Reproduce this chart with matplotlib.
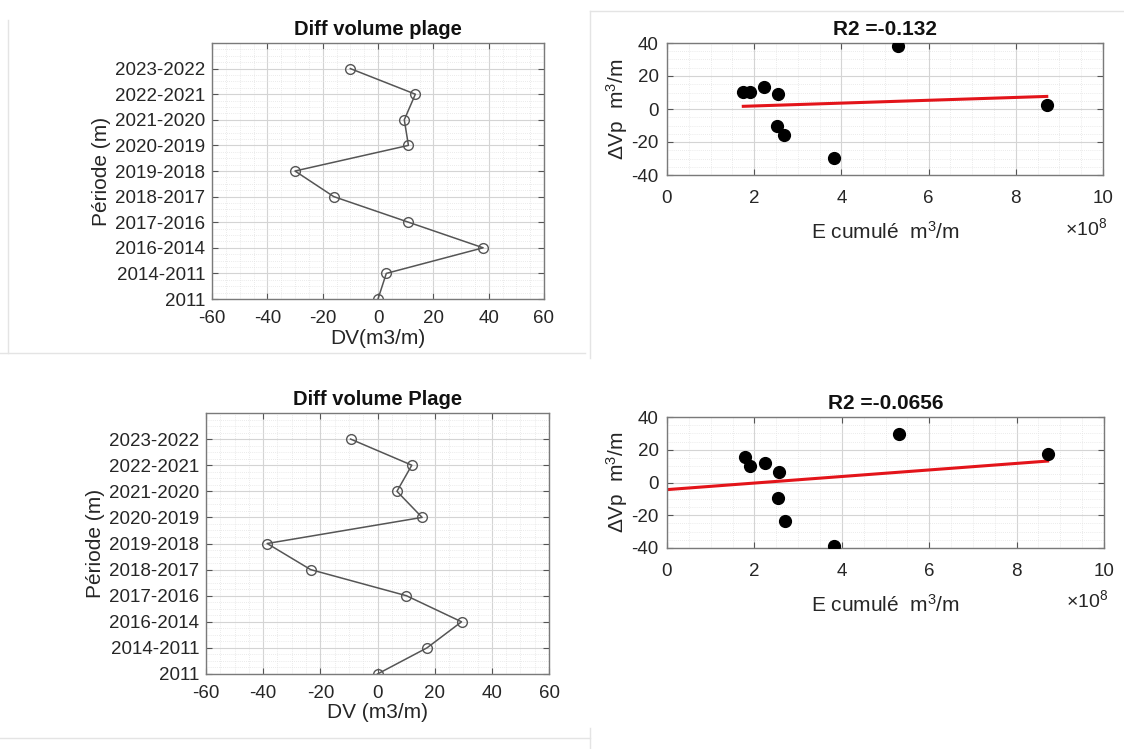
import numpy as np
import matplotlib
matplotlib.use("Agg")
import matplotlib.pyplot as plt
from matplotlib.ticker import MultipleLocator, FuncFormatter
from matplotlib.lines import Line2D

plt.rcParams["font.family"] = ["Liberation Sans", "DejaVu Sans"]
plt.rcParams["mathtext.fontset"] = "custom"
plt.rcParams["mathtext.rm"] = "Liberation Sans"
plt.rcParams["mathtext.it"] = "Liberation Sans:italic"
plt.rcParams["axes.unicode_minus"] = False

# periods, bottom to top
periods = ["2011", "2014-2011", "2016-2014", "2017-2016", "2018-2017",
           "2019-2018", "2020-2019", "2021-2020", "2022-2021", "2023-2022"]

# beach volume differences (m3/m), same order as periods
dv_top = [0, 3, 38, 11, -16, -30, 11, 9.5, 13.5, -10]
dv_bottom = [0, 17.3, 29.4, 10.1, -23.4, -38.6, 15.6, 6.8, 12, -9.4]

# cumulated energy (m3/m) vs volume change, one point per period (2011 excluded)
e_cum_top = [8.71e8, 5.30e8, 3.82e8, 2.69e8, 2.53e8, 2.55e8, 2.23e8, 1.91e8, 1.75e8]
dvp_top = [2.6, 38, -29.7, -16, -10.1, 9.1, 13.3, 10.5, 10.5]

# bottom fit also uses the 2011 origin point (0, 0)
e_cum_bottom = [0, 8.71e8, 5.32e8, 3.83e8, 2.70e8, 2.54e8, 2.56e8, 2.25e8, 1.91e8, 1.79e8]
dvp_bottom = [0, 17.4, 29.8, -38.9, -23.7, -9.5, 6.7, 12.1, 10.1, 15.8]

titles_left = ["Diff volume plage", "Diff volume Plage"]
xlabels_left = ["DV(m3/m)", "DV (m3/m)"]
titles_right = ["R2 =-0.132", "R2 =-0.0656"]

TXT = "#262626"
W, H = 1124, 749


def box(x0, y0, x1, y1):
    # pixel box -> figure fraction rect
    return [x0 / W, 1 - y1 / H, (x1 - x0) / W, (y1 - y0) / H]


def style_axes(ax):
    ax.set_axisbelow(True)
    ax.grid(True, which="major", color="#d4d4d4", lw=0.8)
    ax.grid(True, which="minor", color="#e4e4e4", lw=0.6, ls=(0, (1, 1.5)))
    ax.tick_params(which="both", direction="in", top=True, right=True,
                   colors="#555555", labelcolor=TXT, labelsize=13.5)
    ax.tick_params(which="major", length=4)
    ax.tick_params(which="minor", length=0)
    for s in ax.spines.values():
        s.set_color("#7a7a7a")
        s.set_linewidth(1.0)


def plot_periods(ax, dv, title, xlabel):
    y = np.arange(1, len(periods) + 1)
    ax.plot(dv, y, color="#555555", lw=1.1, marker="o", ms=7,
            mfc="none", mec="#555555", mew=1.0)
    ax.set_xlim(-60, 60)
    ax.set_ylim(1, 11)
    ax.xaxis.set_major_locator(MultipleLocator(20))
    ax.xaxis.set_minor_locator(MultipleLocator(5))
    ax.set_yticks(y)
    ax.set_yticklabels(periods)
    ax.yaxis.set_minor_locator(MultipleLocator(0.25))
    style_axes(ax)
    ax.tick_params(axis="x", pad=8)
    ax.tick_params(axis="y", pad=5)
    ax.set_title(title, fontsize=14.5, fontweight="bold", color="#111111", pad=6)
    ax.set_xlabel(xlabel, fontsize=15, color=TXT, labelpad=1)
    ax.set_ylabel("Période (m)", fontsize=15, color=TXT, labelpad=3)


def plot_energy(ax, e, dvp, title, fit_from=0):
    e = np.asarray(e)
    dvp = np.asarray(dvp)
    p = np.polyfit(e, dvp, 1)
    xs = np.array([e.min(), e.max()])
    ax.plot(e[fit_from:], dvp[fit_from:], "o", color="black", ms=8.5, zorder=3)
    ax.plot(xs, np.polyval(p, xs), color="#e3141a", lw=2.2, zorder=2)
    ax.set_xlim(0, 10e8)
    ax.set_ylim(-40, 40)
    ax.xaxis.set_major_locator(MultipleLocator(2e8))
    ax.xaxis.set_minor_locator(MultipleLocator(0.5e8))
    ax.xaxis.set_major_formatter(FuncFormatter(lambda v, _: f"{v / 1e8:g}"))
    ax.yaxis.set_major_locator(MultipleLocator(20))
    ax.yaxis.set_minor_locator(MultipleLocator(5))
    style_axes(ax)
    ax.tick_params(axis="x", pad=11)
    ax.tick_params(axis="y", pad=6)
    ax.set_title(title, fontsize=15, fontweight="bold", color="#111111", pad=6)
    ax.set_xlabel(r"E cumulé  m$^3$/m", fontsize=15, color=TXT, labelpad=10)
    ax.set_ylabel(r"$\Delta$Vp  m$^3$/m", fontsize=15, color=TXT, labelpad=1)
    ax.text(1.01, -0.40, r"$\times$10$^8$", transform=ax.transAxes,
            ha="right", va="center", fontsize=14, color=TXT)


fig = plt.figure(figsize=(11.24, 7.49), dpi=100)
fig.patch.set_facecolor("white")

ax_tl = fig.add_axes(box(212, 43, 544, 299))
ax_bl = fig.add_axes(box(206, 413, 549, 674))
ax_tr = fig.add_axes(box(667, 43, 1103, 175))
ax_br = fig.add_axes(box(667, 417, 1104, 548))

plot_periods(ax_tl, dv_top, titles_left[0], xlabels_left[0])
plot_periods(ax_bl, dv_bottom, titles_left[1], xlabels_left[1])
plot_energy(ax_tr, e_cum_top, dvp_top, titles_right[0])
plot_energy(ax_br, e_cum_bottom, dvp_bottom, titles_right[1], fit_from=1)

# faint edges of the pasted screenshots
edge = "#e4e4e4"
for (x0, y0, x1, y1) in [(8, 20, 8, 353), (0, 353, 585, 353),
                         (590, 11, 590, 358), (590, 11, 1124, 11),
                         (0, 738, 590, 738), (590, 728, 590, 749)]:
    fig.add_artist(Line2D([x0 / W, x1 / W], [1 - y0 / H, 1 - y1 / H],
                          color=edge, lw=1.0, transform=fig.transFigure))

fig.savefig("out.png", dpi=100)
